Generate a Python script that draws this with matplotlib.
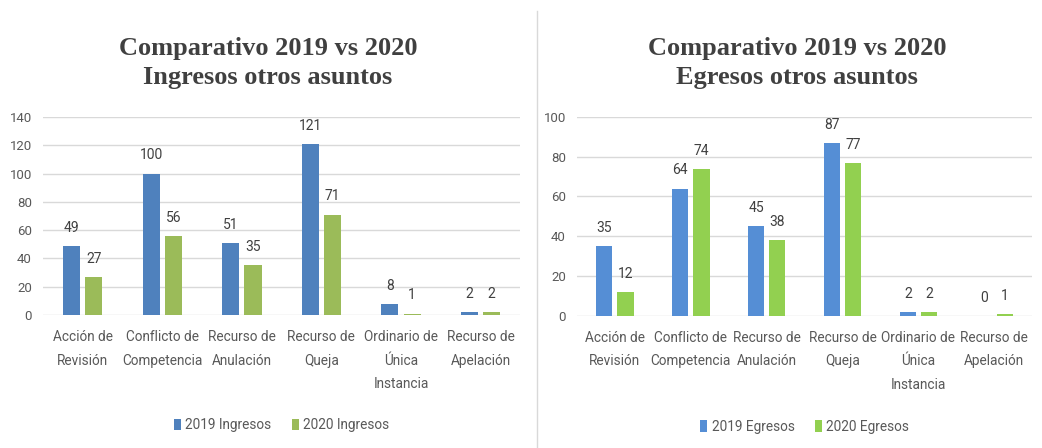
import matplotlib
matplotlib.use("Agg")
import matplotlib.pyplot as plt
import numpy as np

categories = ["Acción de\nRevisión", "Conflicto de\nCompetencia", "Recurso de\nAnulación",
              "Recurso de\nQueja", "Ordinario de\nÚnica\nInstancia", "Recurso de\nApelación"]
ingresos_2019 = [49, 100, 51, 121, 8, 2]
ingresos_2020 = [27, 56, 35, 71, 1, 2]
egresos_2019 = [35, 64, 45, 87, 2, 0]
egresos_2020 = [12, 74, 38, 77, 2, 1]

plt.rcParams['font.family'] = ['Roboto', 'DejaVu Sans']

fig = plt.figure(figsize=(10.42, 4.48), dpi=100)
txt = "#595959"

def panel(rect, v19, v20, ymax, ystep, c19, c20, title, lab19, lab20, cx):
    ax = fig.add_axes(rect)
    x = np.arange(len(categories))
    w = 0.215
    b1 = ax.bar(x - 0.14, v19, w, color=c19, label=lab19, zorder=3)
    b2 = ax.bar(x + 0.14, v20, w, color=c20, label=lab20, zorder=3)
    for bars, vals in ((b1, v19), (b2, v20)):
        for r, v in zip(bars, vals):
            ax.annotate(str(v), (r.get_x() + r.get_width() / 2, v), xytext=(0, 8),
                        textcoords="offset points", ha="center", va="bottom",
                        fontsize=10, color="#404040")
    ax.set_xlim(-0.5, len(categories) - 0.5)
    ax.set_ylim(0, ymax)
    ax.set_yticks(np.arange(0, ymax + 1, ystep))
    ax.yaxis.grid(True, color="#D9D9D9", lw=1, zorder=0)
    for s in ax.spines.values():
        s.set_visible(False)
    ax.tick_params(axis="both", length=0, labelsize=9.5, colors=txt)
    ax.tick_params(axis="y", pad=8)
    ax.set_xticks(x)
    ax.set_xticklabels(categories, linespacing=1.85, fontsize=9.8)
    ax.tick_params(axis="x", pad=11)
    fig.text(cx, 0.86, title, ha="center", va="center", fontsize=19, fontweight="bold",
             family="Liberation Serif", color="#404040", linespacing=1.35)
    leg = ax.legend(loc="upper center", bbox_to_anchor=(0.5, -0.46), ncol=2, frameon=False,
                    fontsize=9.8, handlelength=0.55, handleheight=0.9, columnspacing=1.5,
                    handletextpad=0.3)
    for t in leg.get_texts():
        t.set_color(txt)
    return ax

panel([0.0413, 0.297, 0.458, 0.442], ingresos_2019, ingresos_2020, 140, 20,
      "#4F81BD", "#9BBB59", "Comparativo 2019 vs 2020\nIngresos otros asuntos",
      "2019 Ingresos", "2020 Ingresos", 0.257)
panel([0.5537, 0.295, 0.437, 0.444], egresos_2019, egresos_2020, 100, 20,
      "#558ED5", "#92D050", "Comparativo 2019 vs 2020\nEgresos otros asuntos",
      "2019 Egresos", "2020 Egresos", 0.765)

fig.add_artist(plt.Line2D([0.5155, 0.5155], [0.0, 0.975], color="#D9D9D9", lw=1))

fig.savefig("out.png", dpi=100)
